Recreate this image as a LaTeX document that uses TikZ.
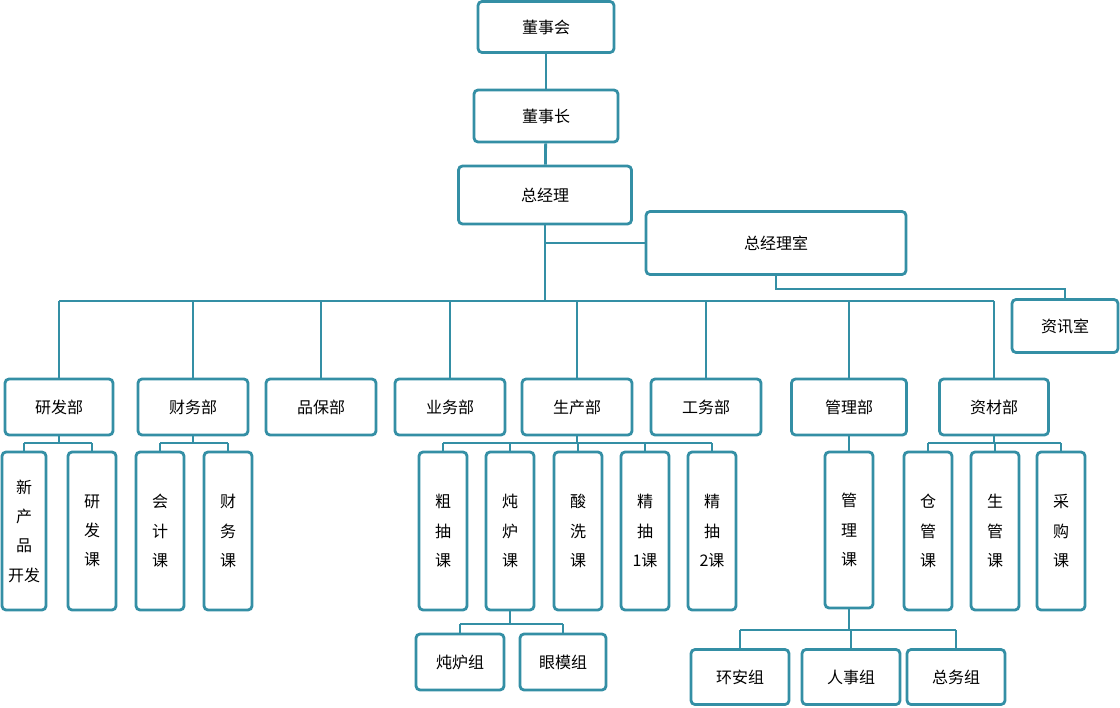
\documentclass[tikz,border=0pt]{standalone}
\usepackage{fontspec}
\setmainfont{Noto Sans CJK SC}
\definecolor{teal}{RGB}{52,143,165}
\begin{document}
\begin{tikzpicture}[x=0.75pt,y=-0.75pt,font=\fontsize{12}{22}\selectfont]
			\tikzset{box/.style={draw=teal,line width=2.1pt,rounded corners=3pt,fill=white,inner sep=0pt,align=center},
				sz/.style 2 args={minimum width=#1*0.75pt,minimum height=#2*0.75pt},
				link/.style={draw=teal,line width=2.1pt}}
			\useasboundingbox (0,0) rectangle (1120,707);

			% top chain
			\node (dsh) at (546,27) [box,sz={136}{51}] {董事会};
			\node (dsz) at (546,116) [box,sz={144}{52}] {董事长};
			\node (zjl) at (545,195) [box,sz={173}{58}] {总经理};
			\node (zjls) at (776,243) [box,sz={260}{63}] {总经理室};
			\node (zxs) at (1065,326) [box,sz={106}{53}] {资讯室};

			% departments
			\node (yfb) at (59,407) [box,sz={108}{56}] {研发部};
			\node (cwb) at (193,407) [box,sz={110}{56}] {财务部};
			\node (pbb) at (321,407) [box,sz={110}{56}] {品保部};
			\node (ywb) at (450,407) [box,sz={110}{56}] {业务部};
			\node (scb) at (577,407) [box,sz={110}{56}] {生产部};
			\node (gwb) at (706,407) [box,sz={110}{56}] {工务部};
			\node (glb) at (849,407) [box,sz={115}{56}] {管理部};
			\node (zcb) at (994,407) [box,sz={109}{56}] {资材部};

			% sections
			\tikzset{vbox/.style={box,sz={48}{158}}}
			\node (xcp) at (24,531) [vbox,sz={44}{158}] {新\\产\\品\\开发};
			\node (yfk) at (92,531) [vbox] {研\\发\\课};
			\node (kjk) at (160,531) [vbox] {会\\计\\课};
			\node (cwk) at (228,531) [vbox] {财\\务\\课};
			\node (cck) at (443,531) [vbox] {粗\\抽\\课};
			\node (dlk) at (510,531) [vbox] {炖\\炉\\课};
			\node (sxk) at (578,531) [vbox] {酸\\洗\\课};
			\node (jc1) at (645,531) [vbox] {精\\抽\\1课};
			\node (jc2) at (712,531) [vbox] {精\\抽\\2课};
			\node (glk) at (849,530) [vbox,sz={48}{156}] {管\\理\\课};
			\node (cgk) at (928,531) [vbox] {仓\\管\\课};
			\node (sgk) at (995,531) [vbox] {生\\管\\课};
			\node (cgo) at (1061,531) [vbox] {采\\购\\课};

			% groups
			\node (dlz) at (460,662) [box,sz={88}{56}] {炖炉组};
			\node (ymz) at (563,662) [box,sz={86}{56}] {眼模组};
			\node (haz) at (740,677) [box,sz={98}{55}] {环安组};
			\node (rsz) at (851,677) [box,sz={98}{55}] {人事组};
			\node (zwz) at (956,677) [box,sz={98}{55}] {总务组};

			\coordinate (bus) at (0,301);
			\coordinate (sub) at (0,443);
			\coordinate (grp) at (0,624);
			\coordinate (grp2) at (0,630);

			\path [link] (dsh) -- (dsz);
			\path [link] (dsz) -- (zjl);
			\path [link] (zjl.south) -- (zjl.south |- bus);
			\path [link] (zjl.south |- zjls.west) -- (zjls.west);
			\path [link] (zjls.south) |- (zxs.north |- 0,289) -- (zxs.north);
			\path [link] (yfb.north |- bus) -- (zcb.north |- bus);
			\foreach \d in {yfb,cwb,pbb,ywb,scb,gwb,glb,zcb}
				\path [link] (\d.north) -- (\d.north |- bus);

			\path [link] (xcp.north |- sub) -- (yfk.north |- sub);
			\path [link] (kjk.north |- sub) -- (cwk.north |- sub);
			\path [link] (cck.north |- sub) -- (jc2.north |- sub);
			\path [link] (cgk.north |- sub) -- (cgo.north |- sub);
			\foreach \d in {yfb,cwb,scb,glb,zcb}
				\path [link] (\d.south) -- (\d.south |- sub);
			\foreach \s in {xcp,yfk,kjk,cwk,cck,dlk,sxk,jc1,jc2,glk,cgk,sgk,cgo}
				\path [link] (\s.north) -- (\s.north |- sub);

			\path [link] (dlk.south) -- (dlk.south |- grp);
			\path [link] (dlz.north |- grp) -- (ymz.north |- grp);
			\path [link] (dlz.north) -- (dlz.north |- grp);
			\path [link] (ymz.north) -- (ymz.north |- grp);
			\path [link] (glk.south) -- (glk.south |- grp2);
			\path [link] (haz.north |- grp2) -- (zwz.north |- grp2);
			\foreach \g in {haz,rsz,zwz}
				\path [link] (\g.north) -- (\g.north |- grp2);
		\end{tikzpicture}
\end{document}
